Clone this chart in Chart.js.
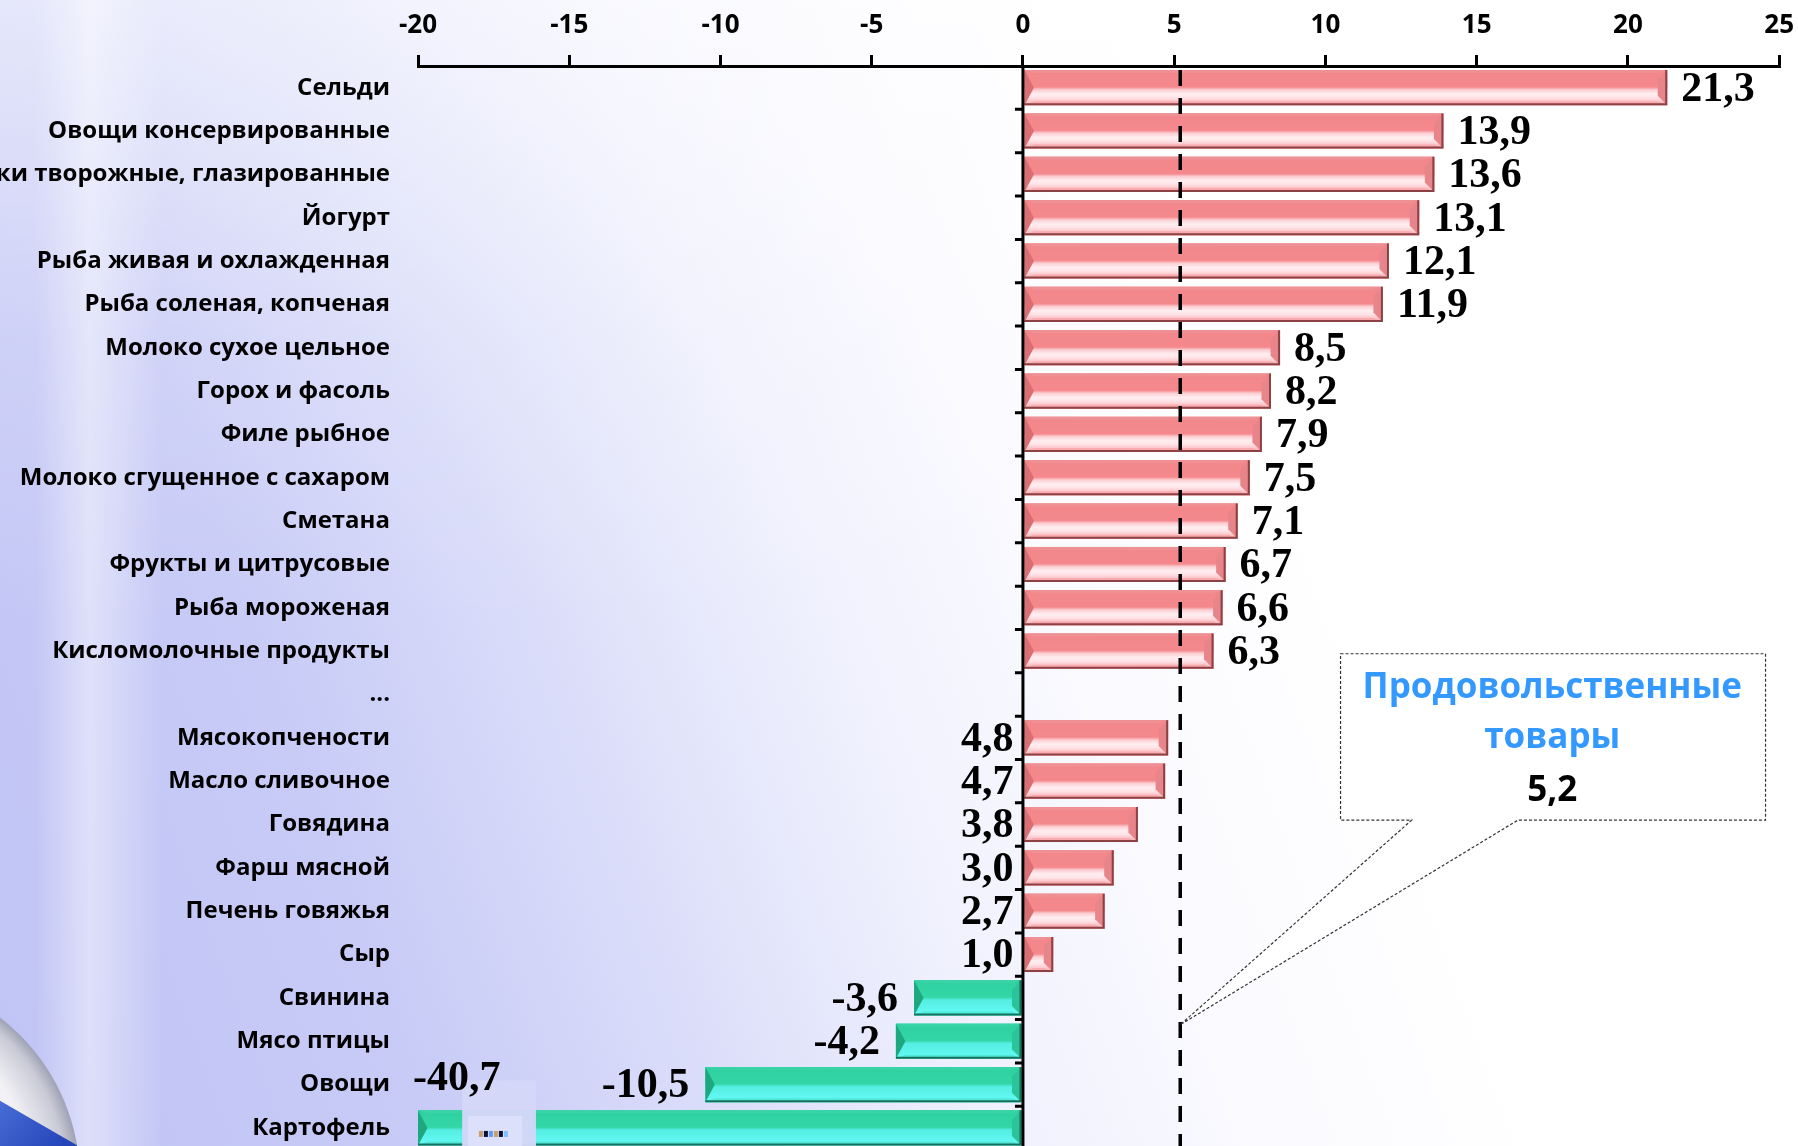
<!DOCTYPE html>
<html>
<head>
<meta charset="utf-8">
<script src="https://cdn.jsdelivr.net/npm/chart.js@4.4.1/dist/chart.umd.min.js"></script>
<style>
    html, body { margin: 0; padding: 0; overflow: hidden; }
    body {
        width: 1798px; height: 1146px; position: relative;
        background:
            linear-gradient(180deg, rgba(255,255,255,0.55) 0%, rgba(255,255,255,0.15) 30%, rgba(255,255,255,0) 55%),
            linear-gradient(90deg, rgba(255,255,255,0) 2%, rgba(255,255,255,0.45) 5%, rgba(255,255,255,0) 9%),
            linear-gradient(70deg, #c0c4f5 0%, #c8cbf6 20%, #d9dcf9 32%, #eff0fd 45%, #fbfbff 58%, #ffffff 70%);
    }
    #wrap { position: absolute; left: 0; top: 0; width: 1808px; height: 1164px; }
</style>
</head>
<body>
<div id="wrap"><canvas id="chart"></canvas></div>
<script>
const categories = [
    'Сельди', 'Овощи консервированные', 'Сырки творожные, глазированные', 'Йогурт',
    'Рыба живая и охлажденная', 'Рыба соленая, копченая', 'Молоко сухое цельное',
    'Горох и фасоль', 'Филе рыбное', 'Молоко сгущенное с сахаром', 'Сметана',
    'Фрукты и цитрусовые', 'Рыба мороженая', 'Кисломолочные продукты', '...',
    'Мясокопчености', 'Масло сливочное', 'Говядина', 'Фарш мясной', 'Печень говяжья',
    'Сыр', 'Свинина', 'Мясо птицы', 'Овощи', 'Картофель'
];
const values = [
    21.3, 13.9, 13.6, 13.1, 12.1, 11.9, 8.5, 8.2, 7.9, 7.5, 7.1, 6.7, 6.6, 6.3, null,
    4.8, 4.7, 3.8, 3.0, 2.7, 1.0, -3.6, -4.2, -10.5, -40.7
];
const xMin = -20;
const xMax = 25;
const xStep = 5;
const averageValue = 5.2;
const calloutTitle = ['Продовольственные', 'товары'];

// callout geometry in scale units (x = value, y = category index)
const callout = {
    left: 10.5, right: 24.55, top: 13.06, bottom: 16.9,
    baseLeft: 12.85, baseRight: 16.36, tipY: 21.62,
    textX: 17.5, lineY: [13.84, 15.0, 16.22]
};

const pinkStyle = {
    face: [[0, '#F2878B'], [0.48, '#F4888C'], [0.56, '#FBCDD1'], [0.68, '#FFEEF1'], [0.78, '#FFE3E7'], [1, '#F7A7AB']],
    top: '#EE9094', bottom: '#F8AAAE', left: '#DA6E73', right: '#E8858A', edge: '#8C4245'
};
const greenStyle = {
    face: [[0, '#2ED09F'], [0.48, '#33D6A6'], [0.56, '#55EEE2'], [1, '#64FBF6']],
    top: '#38D3A6', bottom: '#50E8DA', left: '#1DA880', right: '#2AC49A', edge: '#18705A'
};

function fmt(v) {
    return v.toFixed(1).replace('.', ',');
}

function poly(ctx, pts, color) {
    ctx.beginPath();
    ctx.moveTo(pts[0][0], pts[0][1]);
    for (let i = 1; i < pts.length; i++) ctx.lineTo(pts[i][0], pts[i][1]);
    ctx.closePath();
    ctx.fillStyle = color;
    ctx.fill();
}

function drawBevelBar(ctx, x0, x1, y0, y1, s) {
    const h = y1 - y0, w = x1 - x0;
    const b = Math.min(h * 0.27, w / 2);
    const g = ctx.createLinearGradient(0, y0, 0, y1);
    s.face.forEach(([o, c]) => g.addColorStop(o, c));
    ctx.fillStyle = g;
    ctx.fillRect(x0, y0, w, h);
    poly(ctx, [[x0, y0], [x1, y0], [x1 - b, y0 + 3], [x0 + b, y0 + 3]], s.top);
    poly(ctx, [[x0, y1], [x1, y1], [x1 - b, y1 - 4], [x0 + b, y1 - 4]], s.bottom);
    poly(ctx, [[x0, y0], [x0 + b, y0 + h / 2], [x0, y1]], s.left);
    poly(ctx, [[x1, y0], [x1 - b, y0 + b], [x1 - b, y1 - b], [x1, y1]], s.right);
    ctx.strokeStyle = s.edge;
    ctx.lineWidth = 2;
    ctx.beginPath();
    ctx.moveTo(x0, y1 - 1);
    ctx.lineTo(x1 - 1, y1 - 1);
    ctx.lineTo(x1 - 1, y0);
    ctx.stroke();
}

const bevelBars = {
    id: 'bevelBars',
    afterDatasetsDraw(chart) {
        const ctx = chart.ctx;
        const area = chart.chartArea;
        const meta = chart.getDatasetMeta(0);
        ctx.save();
        ctx.beginPath();
        ctx.rect(area.left, area.top, area.right - area.left, area.bottom - area.top);
        ctx.clip();
        meta.data.forEach((bar, i) => {
            const v = values[i];
            if (v === null) return;
            const p = bar.getProps(['x', 'y', 'base', 'height'], true);
            const x0 = Math.max(Math.min(p.x, p.base), area.left);
            const x1 = Math.max(p.x, p.base);
            drawBevelBar(ctx, x0, x1, p.y - p.height / 2, p.y + p.height / 2, v >= 0 ? pinkStyle : greenStyle);
        });

        // average line
        const xs = chart.scales.x;
        const ys = chart.scales.y;
        const ax = xs.getPixelForValue(averageValue);
        ctx.strokeStyle = '#000';
        ctx.lineWidth = 3.5;
        ctx.setLineDash([16, 12]);
        ctx.beginPath();
        ctx.moveTo(ax, area.top + 4);
        ctx.lineTo(ax, area.bottom);
        ctx.stroke();
        ctx.setLineDash([]);

        // zero axis with category ticks
        const zx = xs.getPixelForValue(0);
        const step = ys.getPixelForValue(1) - ys.getPixelForValue(0);
        ctx.lineWidth = 3;
        ctx.beginPath();
        ctx.moveTo(zx, area.top);
        ctx.lineTo(zx, area.bottom);
        for (let k = 1; k <= categories.length; k++) {
            const ty = ys.getPixelForValue(k) - step / 2;
            ctx.moveTo(zx - 8, ty);
            ctx.lineTo(zx, ty);
        }
        ctx.stroke();
        ctx.restore();
    }
};

const valueLabels = {
    id: 'valueLabels',
    afterDraw(chart) {
        const ctx = chart.ctx;
        const area = chart.chartArea;
        const xs = chart.scales.x;
        const ys = chart.scales.y;
        const step = ys.getPixelForValue(1) - ys.getPixelForValue(0);
        const meta = chart.getDatasetMeta(0);
        ctx.save();
        ctx.textBaseline = 'middle';
        meta.data.forEach((bar, i) => {
            const v = values[i];
            if (v === null) return;
            const p = bar.getProps(['x', 'y', 'base', 'height'], true);
            let x, y = p.y + 2, align;
            if (v < xMin) {
                // broken bar: little break marker and label above it
                const bx0 = xs.getPixelForValue(-18.54), bx1 = xs.getPixelForValue(-16.1);
                ctx.fillStyle = 'rgba(212,215,248,0.97)';
                ctx.fillRect(bx0, p.y - step * 1.1, bx1 - bx0, area.bottom - p.y + step * 1.1);
                const ix0 = xs.getPixelForValue(-18.35), ix1 = xs.getPixelForValue(-16.56);
                ctx.fillStyle = '#DDE0FA';
                ctx.fillRect(ix0, p.y - 12, ix1 - ix0, area.bottom - p.y + 12);
                const stripes = ['#C8A070', '#101030', '#5A9CF8', '#C8A070', '#101030', '#80C0FF'];
                stripes.forEach((c, k) => {
                    ctx.fillStyle = c;
                    ctx.fillRect(ix0 + 11 + k * 5, p.y + 3, 4, 6);
                });
                x = area.left - 5;
                y = p.y - step * 1.13;
                align = 'left';
            } else if (v < 0) {
                x = p.x - 16;
                align = 'right';
            } else if (v > averageValue) {
                x = p.x + 14;
                align = 'left';
            } else {
                x = p.base - 11;
                align = 'right';
            }
            ctx.textAlign = align;
            ctx.font = 'bold 42px "Liberation Serif", "Times New Roman", serif';
            ctx.fillStyle = '#000';
            ctx.fillText(fmt(v), x, y);
        });

        // callout
        const L = xs.getPixelForValue(callout.left), R = xs.getPixelForValue(callout.right);
        const T = ys.getPixelForValue(callout.top), B = ys.getPixelForValue(callout.bottom);
        const bl = xs.getPixelForValue(callout.baseLeft), br = xs.getPixelForValue(callout.baseRight);
        const tx = xs.getPixelForValue(averageValue), ty = ys.getPixelForValue(callout.tipY);
        ctx.beginPath();
        ctx.moveTo(L, T);
        ctx.lineTo(R, T);
        ctx.lineTo(R, B);
        ctx.lineTo(br, B);
        ctx.lineTo(tx, ty);
        ctx.lineTo(bl, B);
        ctx.lineTo(L, B);
        ctx.closePath();
        ctx.fillStyle = '#FFFFFF';
        ctx.fill();
        ctx.strokeStyle = '#333';
        ctx.lineWidth = 1.2;
        ctx.setLineDash([3, 2]);
        ctx.stroke();
        ctx.setLineDash([]);
        const cx = xs.getPixelForValue(callout.textX);
        ctx.textAlign = 'center';
        ctx.font = 'bold 35px "Open Sans"';
        ctx.fillStyle = '#3399FF';
        ctx.fillText(calloutTitle[0], cx, ys.getPixelForValue(callout.lineY[0]));
        ctx.fillText(calloutTitle[1], cx, ys.getPixelForValue(callout.lineY[1]));
        ctx.fillStyle = '#000';
        ctx.fillText(fmt(averageValue), cx, ys.getPixelForValue(callout.lineY[2]));
        ctx.restore();
    }
};

const backdrop = {
    id: 'backdrop',
    beforeDraw(chart) {
        // part of the globe picture in the lower left corner
        const ctx = chart.ctx;
        ctx.save();
        ctx.beginPath();
        ctx.arc(-125, 1180, 205, 0, Math.PI * 2);
        ctx.clip();
        const rg = ctx.createRadialGradient(-150, 1150, 20, -125, 1180, 205);
        rg.addColorStop(0, '#ffffff');
        rg.addColorStop(0.75, '#f2f2f6');
        rg.addColorStop(0.93, '#c9cad6');
        rg.addColorStop(1, '#9fa2b4');
        ctx.fillStyle = rg;
        ctx.fillRect(-340, 970, 430, 430);
        ctx.beginPath();
        ctx.moveTo(-10, 1095);
        ctx.lineTo(120, 1170);
        ctx.lineTo(120, 1400);
        ctx.lineTo(-10, 1400);
        ctx.closePath();
        const bg = ctx.createLinearGradient(0, 1095, 60, 1150);
        bg.addColorStop(0, '#4a6fd8');
        bg.addColorStop(1, '#2444b8');
        ctx.fillStyle = bg;
        ctx.fill();
        ctx.restore();
    }
};

const ctx = document.getElementById('chart').getContext('2d');
new Chart(ctx, {
    type: 'bar',
    data: {
        labels: categories,
        datasets: [{
            data: values,
            backgroundColor: (c) => (c.raw !== null && c.raw < 0 ? '#33D6A6' : '#F4888C'),
            borderWidth: 0,
            barPercentage: 0.81,
            categoryPercentage: 1
        }]
    },
    options: {
        indexAxis: 'y',
        responsive: true,
        maintainAspectRatio: false,
        animation: false,
        layout: { padding: { left: 0, right: 21, top: 0, bottom: 0 } },
        plugins: {
            legend: { display: false },
            tooltip: { enabled: false }
        },
        scales: {
            x: {
                position: 'top',
                min: xMin,
                max: xMax,
                ticks: {
                    stepSize: xStep,
                    color: '#000',
                    padding: 14,
                    font: { family: 'Open Sans', weight: 'bold', size: 26 },
                    callback: (v) => String(v)
                },
                grid: { drawOnChartArea: false, color: '#000', lineWidth: 3, tickLength: 11 },
                border: { color: '#000', width: 3 },
                afterFit(s) { s.height = 66; }
            },
            y: {
                ticks: {
                    autoSkip: false,
                    color: '#000',
                    padding: 0,
                    font: { family: 'Open Sans', weight: 'bold', size: 24 }
                },
                grid: { display: false, drawTicks: true, tickLength: 28 },
                border: { display: false },
                afterFit(s) { s.width = 418; }
            }
        }
    },
    plugins: [backdrop, bevelBars, valueLabels]
});
</script>
</body>
</html>
